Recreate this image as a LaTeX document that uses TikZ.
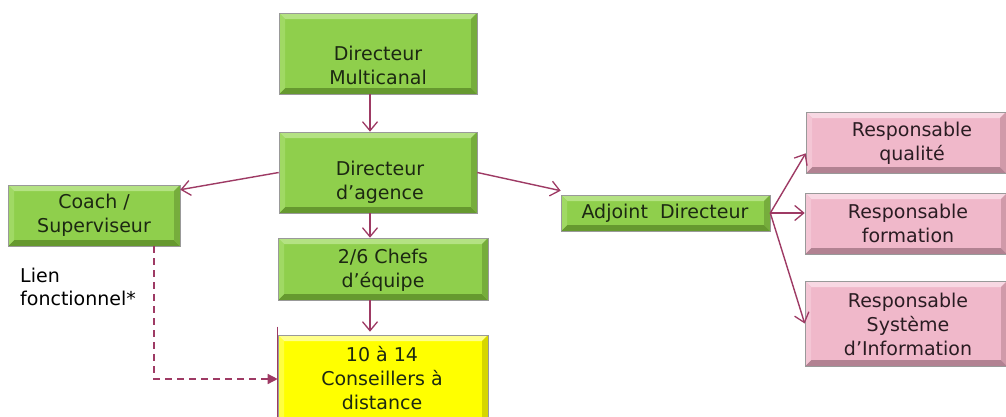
\documentclass[tikz,border=0pt]{standalone}
\usepackage{fontspec}
\setmainfont{DejaVu Sans}
\usetikzlibrary{arrows.meta,calc}

\definecolor{grmain}{HTML}{8FCF4C}
\definecolor{grlight}{HTML}{B4E283}
\definecolor{grdark}{HTML}{66992F}
\definecolor{grleft}{HTML}{A0D964}
\definecolor{grright}{HTML}{76AD3C}
\definecolor{ylmain}{HTML}{FFFF00}
\definecolor{yllight}{HTML}{FFFF8A}
\definecolor{yldark}{HTML}{BDBD00}
\definecolor{ylleft}{HTML}{FFFF40}
\definecolor{ylright}{HTML}{D6D600}
\definecolor{pkmain}{HTML}{F0B8CA}
\definecolor{pklight}{HTML}{F8D8E3}
\definecolor{pkdark}{HTML}{B28292}
\definecolor{pkleft}{HTML}{F4C6D5}
\definecolor{pkright}{HTML}{D09AA9}
\definecolor{link}{RGB}{158,58,100}
\definecolor{ink}{HTML}{1C2812}
\definecolor{pkink}{HTML}{2A1C22}

\tikzset{
  bevel/.style n args={4}{path picture={
    \path (path picture bounding box.north west) coordinate (bnw)
          (path picture bounding box.north east) coordinate (bne)
          (path picture bounding box.south east) coordinate (bse)
          (path picture bounding box.south west) coordinate (bsw);
    \path ([shift={(6pt,-6pt)}]bnw) coordinate (inw)
          ([shift={(-6pt,-6pt)}]bne) coordinate (ine)
          ([shift={(-6pt,6pt)}]bse) coordinate (ise)
          ([shift={(6pt,6pt)}]bsw) coordinate (isw);
    \fill[#1] (bnw) -- (bne) -- (ine) -- (inw) -- cycle;
    \fill[#2] (bsw) -- (bse) -- (ise) -- (isw) -- cycle;
    \fill[#3] (bnw) -- (inw) -- (isw) -- (bsw) -- cycle;
    \fill[#4] (bne) -- (bse) -- (ise) -- (ine) -- cycle;
  }},
  box/.style={draw=black!40, line width=0.6pt, inner sep=0pt},
  greenbox/.style={box, fill=grmain, bevel={grlight}{grdark}{grleft}{grright}},
  yellowbox/.style={box, fill=ylmain, bevel={yllight}{yldark}{ylleft}{ylright}},
  pinkbox/.style={box, fill=pkmain, bevel={pklight}{pkdark}{pkleft}{pkright}},
  boxtext/.style={align=center, text=ink, font=\fontsize{19}{24}\selectfont, inner sep=0pt},
  pinktext/.style={boxtext, text=pkink},
  note/.style={align=left, text=black, font=\fontsize{19}{23}\selectfont, inner sep=0pt},
  link/.style={draw=link, line width=1.4pt, -{Straight Barb[length=9pt,width=15pt,line width=1.3pt]}},
  dashlink/.style={draw=link, line width=1.4pt, dash pattern=on 7pt off 5pt,
    -{Triangle[length=10pt,width=10pt]}},
}

\begin{document}
\begin{tikzpicture}[x=1pt,y=-1pt]
\useasboundingbox[fill=white] (0,0) rectangle (1006,416);

% boxes
\node[greenbox, minimum width=198pt, minimum height=81pt] (dm) at (378,53.5) {};
\node[greenbox, minimum width=198pt, minimum height=81pt] (da) at (378,172.5) {};
\node[greenbox, minimum width=210pt, minimum height=62pt] (ce) at (383,269) {};
\node[yellowbox, minimum width=210pt, minimum height=88pt] (cd) at (383,379) {};
\node[greenbox, minimum width=172pt, minimum height=61pt] (co) at (94,215.5) {};
\node[greenbox, minimum width=209pt, minimum height=36pt] (ad) at (665.5,213) {};
\node[pinkbox, minimum width=200pt, minimum height=61pt] (rq) at (906,142.5) {};
\node[pinkbox, minimum width=202pt, minimum height=61pt] (rf) at (906,223.5) {};
\node[pinkbox, minimum width=202pt, minimum height=85pt] (rs) at (906,323.5) {};

% box texts
\node[boxtext] (dm-t) at (378,65) {Directeur\\Multicanal};
\node[boxtext] (da-t) at (380,182) {Directeur\\d’agence};
\node[boxtext] (ce-t) at (383,270) {2/6 Chefs\\d’équipe};
\node[boxtext] (cd-t) at (382,378) {10 à 14\\Conseillers à\\distance};
\node[boxtext] (co-t) at (94,215.5) {Coach /\\Superviseur};
\node[boxtext] (ad-t) at (665,213) {Adjoint\ \ Directeur};
\node[pinktext] (rq-t) at (912,143) {Responsable\\qualité};
\node[pinktext] (rf-t) at (908,223.5) {Responsable\\formation};
\node[pinktext] (rs-t) at (908,324) {Responsable\\Système\\d’Information};
\node[note, anchor=north west] (lf) at (20,268) {Lien\\fonctionnel*};

% connectors
\coordinate (spine) at (370,0);
\draw[link] (dm.south -| spine) -- (da.north -| spine);
\draw[link] (da.south -| spine) -- (ce.north -| spine);
\draw[link] (ce.south -| spine) -- ([yshift=3pt]cd.north -| spine);
\draw[link] (da.west) -- ([yshift=-5pt]co.north east);
\draw[link] (da.east) -- ([yshift=4pt]ad.north west);
\draw[link] (ad.east) -- ([yshift=20pt]rq.south west);
\draw[link] (ad.east) -- (rf.west |- ad.east);
\draw[link] (ad.east) -- (rs.west);

% edge line beside the advisers box
\coordinate (edgetop) at ([yshift=8pt]cd.north west);
\coordinate (edgebot) at (cd.south west);
\draw[link, -, line width=1.2pt] (edgetop) -- (edgebot);

% functional link
\coordinate (fl) at (154,379);
\draw[dashlink] (co.south -| fl) -- (fl) -- (cd.west);
\end{tikzpicture}
\end{document}
